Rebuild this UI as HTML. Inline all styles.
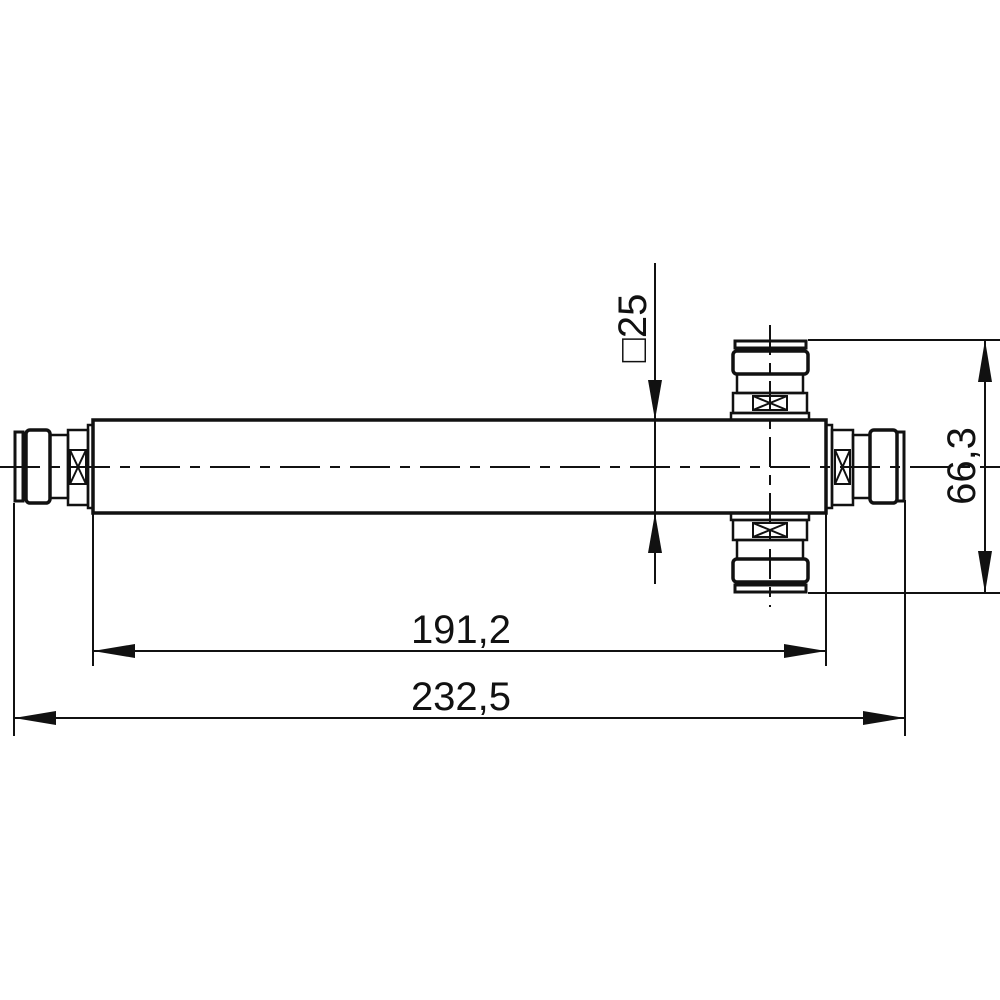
<!DOCTYPE html>
<html><head><meta charset="utf-8"><style>html,body{margin:0;padding:0;background:#fff}svg{display:block}</style></head>
<body>
<svg width="1000" height="1000" viewBox="0 0 1000 1000" xmlns="http://www.w3.org/2000/svg" font-family="Liberation Sans, sans-serif">
<rect width="1000" height="1000" fill="#fff"/>
<g fill="none" stroke="#111">
<!-- centerlines -->
<line x1="0" y1="467" x2="1000" y2="467" stroke-width="2" stroke-dasharray="40,10,10,10"/>
<line x1="770" y1="325" x2="770" y2="607" stroke-width="2" stroke-dasharray="30,8,10,8"/>
<!-- body -->
<rect x="93" y="420" width="733" height="93" stroke-width="3.5"/>
<!-- left connector -->
<rect x="88" y="425" width="5" height="83" stroke-width="2.5"/>
<rect x="68" y="430" width="20" height="75" stroke-width="2.5"/>
<rect x="70" y="450" width="16" height="34" stroke-width="2"/>
<path d="M70 450 L86 484 M86 450 L70 484" stroke-width="2"/>
<rect x="50" y="435" width="18" height="63" stroke-width="2.5"/>
<rect x="26" y="430" width="24" height="73" rx="4" stroke-width="3.5"/>
<rect x="15" y="432" width="8" height="69" stroke-width="3"/>
<!-- right connector -->
<rect x="826" y="425" width="6" height="83" stroke-width="2.5"/>
<rect x="832" y="430" width="21" height="75" stroke-width="2.5"/>
<rect x="835" y="450" width="15" height="34" stroke-width="2"/>
<path d="M835 450 L850 484 M850 450 L835 484" stroke-width="2"/>
<rect x="853" y="435" width="17" height="63" stroke-width="2.5"/>
<rect x="870" y="430" width="27" height="73" rx="4" stroke-width="3.5"/>
<rect x="897" y="432" width="7" height="69" stroke-width="3"/>
<!-- top connector -->
<rect x="731" y="413" width="78" height="7" stroke-width="2.5"/>
<rect x="733" y="393" width="74" height="20" stroke-width="2.5"/>
<rect x="753" y="396" width="34" height="14" stroke-width="2"/>
<path d="M753 396 L787 410 M787 396 L753 410" stroke-width="2"/>
<rect x="737" y="374" width="66" height="19" stroke-width="2.5"/>
<rect x="733" y="351" width="75" height="23" rx="4" stroke-width="3.5"/>
<rect x="735" y="341" width="71" height="7" stroke-width="3"/>
<!-- bottom connector -->
<rect x="731" y="513" width="78" height="7" stroke-width="2.5"/>
<rect x="733" y="520" width="74" height="20" stroke-width="2.5"/>
<rect x="753" y="523" width="34" height="14" stroke-width="2"/>
<path d="M753 523 L787 537 M787 523 L753 537" stroke-width="2"/>
<rect x="737" y="540" width="66" height="19" stroke-width="2.5"/>
<rect x="733" y="559" width="75" height="23" rx="4" stroke-width="3.5"/>
<rect x="735" y="585" width="71" height="7" stroke-width="3"/>
<!-- extension lines -->
<g stroke-width="2">
<line x1="14" y1="503" x2="14" y2="736"/>
<line x1="93" y1="513" x2="93" y2="666"/>
<line x1="826" y1="513" x2="826" y2="666"/>
<line x1="905" y1="500" x2="905" y2="736"/>
<line x1="808" y1="340" x2="1000" y2="340"/>
<line x1="808" y1="593" x2="1000" y2="593"/>
<line x1="655" y1="263" x2="655" y2="584"/>
<line x1="93" y1="651" x2="826" y2="651"/>
<line x1="14" y1="718" x2="905" y2="718"/>
<line x1="985" y1="340" x2="985" y2="593"/>
</g>
</g>
<g fill="#111">
<path d="M93 651 L135 644 L135 658 Z"/>
<path d="M826 651 L784 644 L784 658 Z"/>
<path d="M14 718 L56 711 L56 725 Z"/>
<path d="M905 718 L863 711 L863 725 Z"/>
<path d="M655 420 L648 380 L662 380 Z"/>
<path d="M655 513 L648 553 L662 553 Z"/>
<path d="M985 340 L978 382 L992 382 Z"/>
<path d="M985 593 L978 551 L992 551 Z"/>
</g>
<g fill="#111" font-size="40">
<text x="461" y="643" text-anchor="middle">191,2</text>
<text x="461" y="710" text-anchor="middle">232,5</text>
<text transform="translate(646,328) rotate(-90)" text-anchor="middle">□25</text>
<text transform="translate(975,466) rotate(-90)" text-anchor="middle">66,3</text>
</g>
</svg>
</body></html>
